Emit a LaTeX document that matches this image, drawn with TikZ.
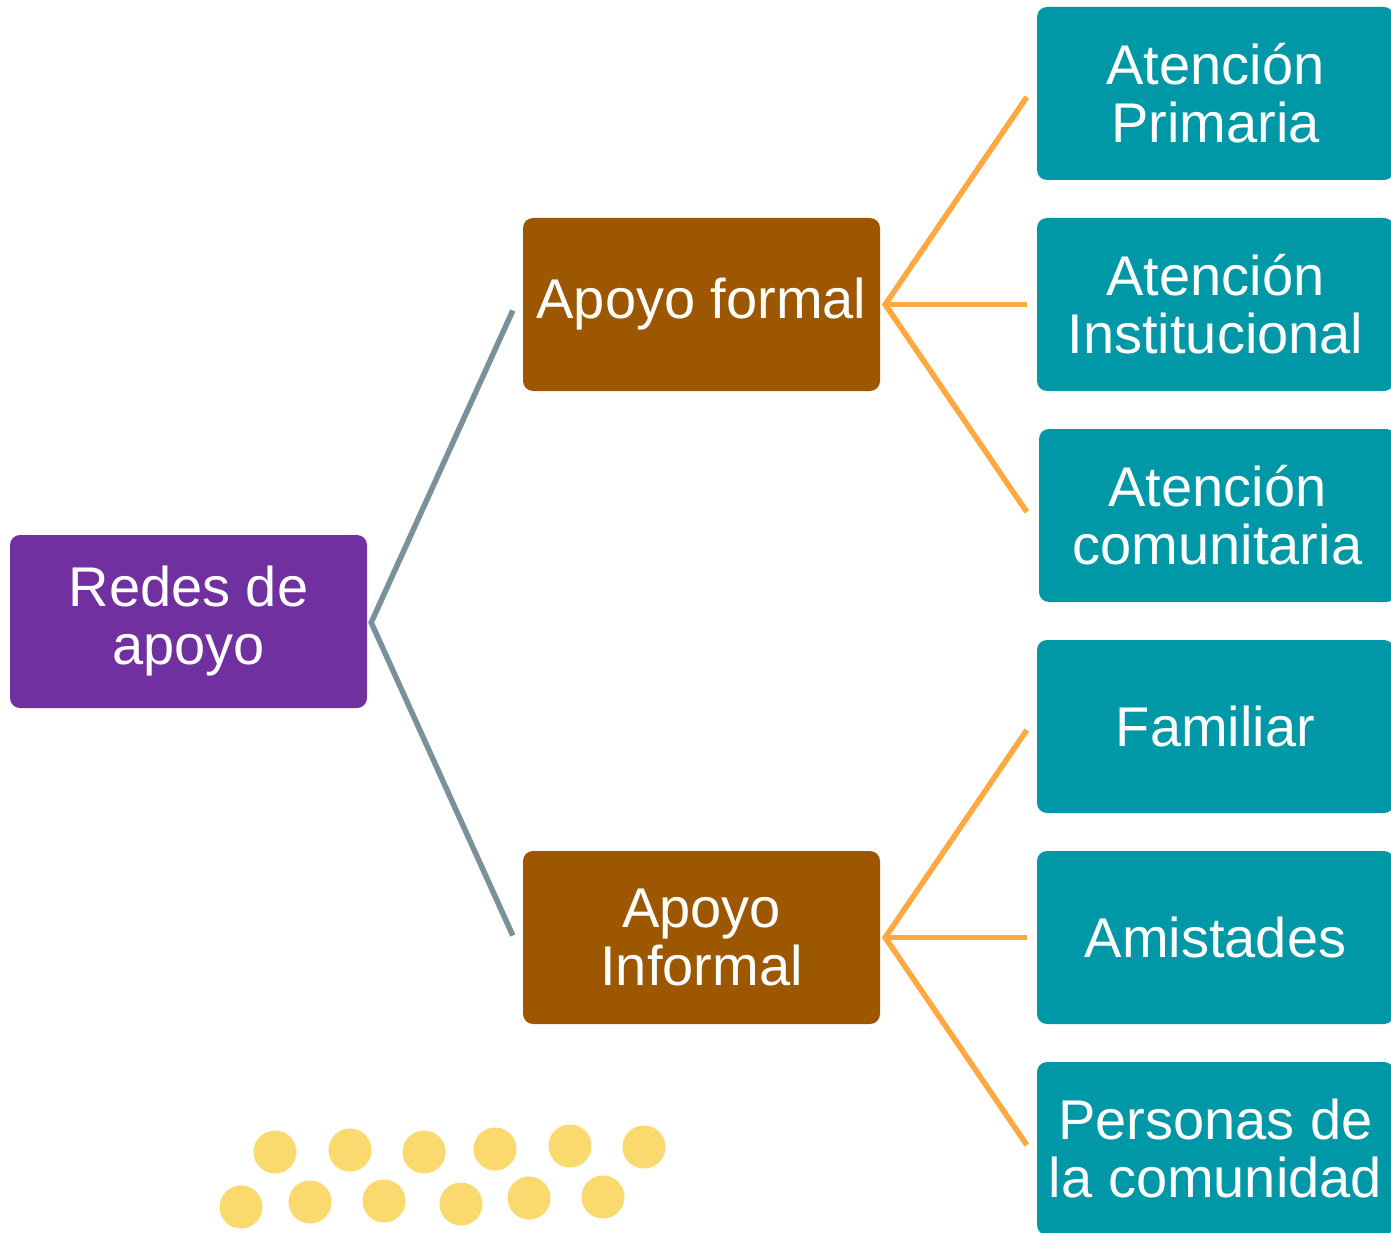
\documentclass[tikz,border=0pt]{standalone}
\usepackage{fontspec}
\setmainfont{Liberation Sans}
\definecolor{rootpurple}{RGB}{112,48,160}
\definecolor{midbrown}{RGB}{156,87,0}
\definecolor{leafteal}{RGB}{0,151,167}
\definecolor{linegray}{RGB}{122,144,154}
\definecolor{lineorange}{RGB}{255,169,64}
\definecolor{dotyellow}{RGB}{250,218,110}
\begin{document}
\begin{tikzpicture}[x=1pt,y=-1pt,
  box/.style={rectangle, rounded corners=10pt, minimum width=357pt, minimum height=173pt,
    inner sep=0pt, text=white, align=center,
    font=\fontsize{56}{58}\selectfont},
  rootbox/.style={box, fill=rootpurple},
  midbox/.style={box, fill=midbrown},
  leafbox/.style={box, fill=leafteal},
  grayline/.style={draw=linegray, line width=5.5pt},
  orangeline/.style={draw=lineorange, line width=5.5pt},
  dot/.style={circle, fill=dotyellow, minimum size=43pt, inner sep=0pt}]
\useasboundingbox (0,0) rectangle (1391,1233);
\fill[white] (0,0) rectangle (1391,1233);

\node[rootbox] (root) at (188.5,621.5) {Redes de\\apoyo};
\node[midbox] (formal) at (701.5,304.5) {Apoyo formal};
\node[midbox] (informal) at (701.5,937.5) {Apoyo\\Informal};

\node[leafbox] (l1) at (1215.5,93.5) {Atención\\Primaria};
\node[leafbox] (l2) at (1215.5,304.5) {Atención\\Institucional};
\node[leafbox] (l3) at (1217.5,515.5) {Atención\\comunitaria};
\node[leafbox] (l4) at (1215.5,726.5) {Familiar};
\node[leafbox] (l5) at (1215.5,937.5) {Amistades};
\node[leafbox] (l6) at (1215.5,1148.5) {Personas de\\la comunidad};

% hub points
\coordinate (hubroot) at ([xshift=4pt,yshift=-1pt]root.east);
\coordinate (hubformal) at ([xshift=5pt]formal.east);
\coordinate (hubinformal) at ([xshift=5pt]informal.east);

\draw[grayline] ([xshift=-10pt,yshift=-6pt]formal.west) -- (hubroot) -- ([xshift=-10pt,yshift=2pt]informal.west);

\draw[orangeline] ([xshift=-10pt,yshift=-3.5pt]l1.west) -- (hubformal) -- ([xshift=-12pt,yshift=3.5pt]l3.west);
\draw[orangeline] (hubformal) -- ([xshift=-10pt]l2.west);
\draw[orangeline] ([xshift=-10pt,yshift=-3.5pt]l4.west) -- (hubinformal) -- ([xshift=-10pt,yshift=3.5pt]l6.west);
\draw[orangeline] (hubinformal) -- ([xshift=-10pt]l5.west);

% decorative dots
\node[dot] (d1) at (275,1152) {};
\node[dot] (d2) at (350,1150) {};
\node[dot] (d3) at (424,1152) {};
\node[dot] (d4) at (495,1149) {};
\node[dot] (d5) at (570,1146) {};
\node[dot] (d6) at (644,1147) {};
\node[dot] (d7) at (241,1207) {};
\node[dot] (d8) at (310,1202) {};
\node[dot] (d9) at (384,1201) {};
\node[dot] (d10) at (461,1204) {};
\node[dot] (d11) at (529,1198) {};
\node[dot] (d12) at (603,1197) {};
\end{tikzpicture}
\end{document}
